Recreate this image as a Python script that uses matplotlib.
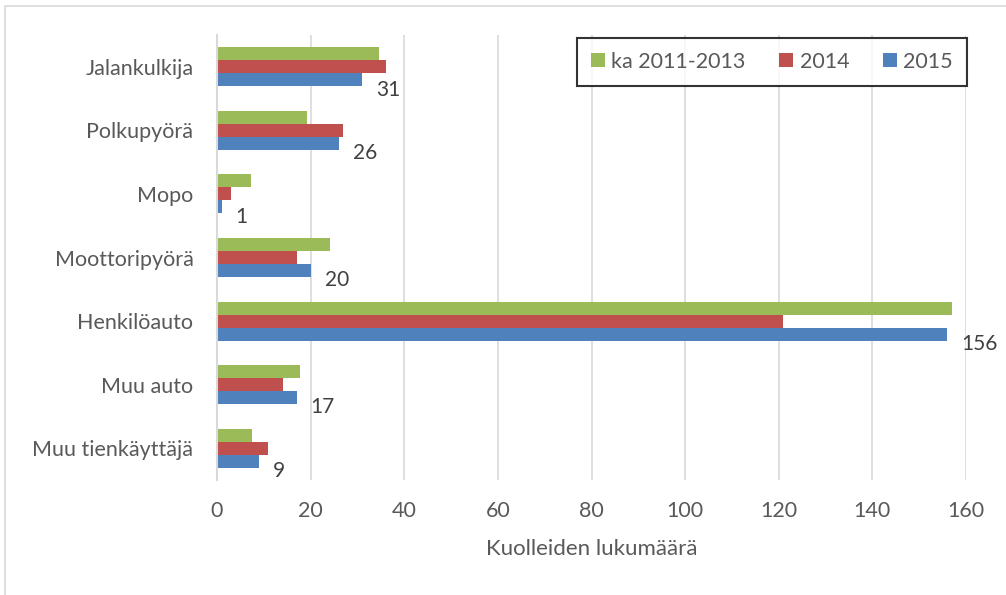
import numpy as np
import matplotlib.pyplot as plt
import matplotlib.patches as patches

# Data
categories = ["Jalankulkija", "Polkupyörä", "Mopo", "Moottoripyörä",
              "Henkilöauto", "Muu auto", "Muu tienkäyttäjä"]
avg_2011_2013 = [34.6, 19.2, 7.2, 24.2, 157.0, 17.8, 7.5]
y2014 = [36, 27, 3, 17, 121, 14, 11]
y2015 = [31, 26, 1, 20, 156, 17, 9]
xticks = [0, 20, 40, 60, 80, 100, 120, 140, 160]

GREEN, RED, BLUE = "#9BBB59", "#C0504D", "#4F81BD"
TXT = "#404040"

plt.rcParams['font.family'] = ['Lato', 'DejaVu Sans']

fig = plt.figure(figsize=(10.06, 5.95), dpi=100)
ax = fig.add_axes([217 / 1006, 1 - 480 / 595, (966 - 217) / 1006, (480 - 35) / 595])

# light outer chart border
fig.patches.append(patches.Rectangle((5 / 1006, -0.01), 1.0, 1 - 6 / 595 + 0.01,
                                     transform=fig.transFigure, fill=False,
                                     ec="#D9D9D9", lw=1.2))

y = np.arange(len(categories))
h = 0.205
ax.barh(y - h, avg_2011_2013, h, color=GREEN, label="ka 2011-2013")
ax.barh(y, y2014, h, color=RED, label="2014")
ax.barh(y + h, y2015, h, color=BLUE, label="2015")

for yi, v in zip(y, y2015):
    ax.annotate(str(v), (v, yi + h), xytext=(10, -7), textcoords="offset points",
                ha="left", va="center", fontsize=15, color=TXT)

ax.set_xlim(0, 160)
ax.set_ylim(len(categories) - 0.5, -0.5)
ax.set_xticks(xticks)
ax.set_yticks(y)
ax.set_yticklabels(categories)
ax.tick_params(axis="both", length=0, labelsize=15.5, labelcolor="#595959")
ax.tick_params(axis="x", pad=15)
ax.tick_params(axis="y", pad=17)
ax.xaxis.grid(True, color="#D9D9D9", lw=1.2)
ax.set_axisbelow(True)
for s in ["top", "right", "bottom"]:
    ax.spines[s].set_visible(False)
ax.spines["left"].set_color("#D9D9D9")
ax.spines["left"].set_linewidth(1.5)
ax.set_xlabel("Kuolleiden lukumäärä", fontsize=16, color="#595959", labelpad=13)

leg = ax.legend(loc="upper right", bbox_to_anchor=(1.001, 0.994), ncol=3, fontsize=15.5,
                frameon=True, fancybox=False, edgecolor="black", handlelength=0.65,
                handleheight=0.65, columnspacing=1.55, handletextpad=0.3,
                borderpad=0.65, borderaxespad=0)
leg.get_frame().set_linewidth(1.5)
for t in leg.get_texts():
    t.set_color("#595959")

fig.savefig("out.png", dpi=100)
